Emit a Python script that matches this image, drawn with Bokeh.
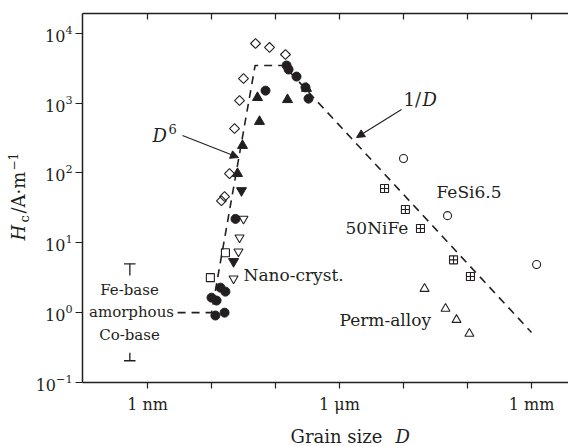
import numpy as np
from bokeh.plotting import figure
from bokeh.layouts import row, column
from bokeh.models import Range1d, LogAxis, FixedTicker, Label, Arrow, NormalHead
from bokeh.embed import file_html
from bokeh.resources import INLINE

# ---------------- data (grain size D in nm, coercivity Hc in A/m) ----------------
diam_x = [48.7, 80.6, 143, 31.6, 27.4, 22.9, 19.1, 14.3, 16.0]
diam_y = [7140, 6270, 4970, 2250, 1090, 433, 98, 40, 46]

circ_x = [149, 160, 213, 294, 328, 69.8, 23.7, 10.0, 12.0, 13.8, 16.5, 11.5, 16.0]
circ_y = [3460, 3030, 2400, 1680, 1160, 1510, 22, 1.64, 1.49, 2.28, 2.0, 0.91, 1.0]

tri_x = [52.3, 154, 56.2, 30.5, 25.5, 305]
tri_y = [1200, 1120, 545, 247, 98, 1620]

itri_x = [29.4, 22.1]
itri_y = [56, 5.4]

oitri_x = [31.6, 27.4, 26.4, 22.1]
oitri_y = [22, 11.9, 7.5, 3.07]

osq_x = [16.5, 9.6]
osq_y = [7.2, 3.17]

fesi_x = [1.0e4, 4.87e4, 1.2e6]
fesi_y = [161, 24.5, 4.9]

nife_x = [5050, 10700, 18400, 60400, 111000]
nife_y = [60, 30, 16, 5.7, 3.3]

perm_x = [21300, 45300, 67300, 107000]
perm_y = [2.2, 1.14, 0.79, 0.50]

fit_x = [2.95, 10, 48, 135, 1.0e6]
fit_y = [1.0, 1.0, 3460, 3460, 0.52]

amorph_x = 0.53          # position of the amorphous range bars
fe_top, fe_bar = 5.0, 3.4
co_bottom, co_bar = 0.205, 0.267
cap_lo, cap_hi = 0.43, 0.65

x_ticks = [1, 10, 100, 1e3, 1e4, 1e5, 1e6]
x_tick_labels = {1: "1 nm", 10: " ", 100: " ", 1000: "1 μm", 10000: " ", 100000: " ", 1000000: "1 mm"}
top_tick_labels = {1: " ", 10: " ", 100: " ", 1000: " ", 10000: " ", 100000: " ", 1000000: " "}
y_ticks = [0.1, 1, 10, 100, 1e3, 1e4]

INK = "#231f20"
FONT = "DejaVu Serif"

YLAB_W = 32
MAIN_W, MAIN_H = 536, 416
XLAB_H = 30
H_ALL = MAIN_H + XLAB_H

p = figure(width=MAIN_W, height=MAIN_H, x_axis_type="log", y_axis_type="log",
           x_range=Range1d(0.0965, 3.78e6), y_range=Range1d(0.1, 19200),
           output_backend="svg", toolbar_location=None,
           min_border_left=50, min_border_right=0, min_border_top=13, min_border_bottom=34)
p.outline_line_color = None
p.xgrid.visible = False
p.ygrid.visible = False

for ax in (p.xaxis[0], p.yaxis[0]):
    ax.axis_line_width = 1.5
    ax.axis_line_color = INK
    ax.major_tick_line_color = INK
    ax.major_tick_line_width = 1.2
    ax.major_tick_in = 0
    ax.minor_tick_line_color = None
    ax.major_label_text_font = FONT
    ax.major_label_text_font_size = "16px"
    ax.major_label_text_color = INK

p.xaxis[0].ticker = FixedTicker(ticks=x_ticks)
p.xaxis[0].major_label_overrides = x_tick_labels
p.xaxis[0].major_tick_out = 6
p.xaxis[0].major_label_standoff = 6

p.yaxis[0].ticker = FixedTicker(ticks=y_ticks)
p.yaxis[0].major_tick_out = 7
p.yaxis[0].major_label_standoff = 3

top = LogAxis(ticker=FixedTicker(ticks=x_ticks), major_tick_in=6, major_tick_out=0,
              major_label_overrides=top_tick_labels,
              major_label_text_font_size="2px", major_label_standoff=0,
              minor_tick_line_color=None, axis_line_width=1.5, axis_line_color=INK,
              major_tick_line_color=INK, major_tick_line_width=1.2)
p.add_layout(top, "above")

# fit line
p.line(fit_x, fit_y, line_color=INK, line_width=1.6, line_dash="8 6")

# markers
p.scatter(diam_x, diam_y, marker="square", angle=np.pi / 4, size=7,
          fill_color=None, line_color=INK, line_width=1.1)
p.scatter(tri_x, tri_y, marker="triangle", size=10, fill_color=INK, line_color=INK)
p.scatter(itri_x, itri_y, marker="inverted_triangle", size=10, fill_color=INK, line_color=INK)
p.scatter(circ_x, circ_y, marker="circle", size=9, fill_color=INK, line_color=INK)
p.scatter(oitri_x, oitri_y, marker="inverted_triangle", size=9,
          fill_color=None, line_color=INK, line_width=1.1)
p.scatter(osq_x, osq_y, marker="square", size=8, fill_color=None, line_color=INK, line_width=1.1)
p.scatter(fesi_x, fesi_y, marker="circle", size=8, fill_color=None, line_color=INK, line_width=1.1)
p.scatter(nife_x, nife_y, marker="square_cross", size=8, fill_color=None, line_color=INK, line_width=1.1)
p.scatter(perm_x, perm_y, marker="triangle", size=9, fill_color=None, line_color=INK, line_width=1.1)

# amorphous range bars
p.segment([amorph_x, amorph_x, cap_lo, cap_lo], [fe_bar, co_bar, fe_top, co_bottom],
          [amorph_x, amorph_x, cap_hi, cap_hi], [fe_top, co_bottom, fe_top, co_bottom],
          line_color=INK, line_width=1.3)


def lab(fig, ox, oy, text, px, py, size, italic=False, align="left", angle=0.0):
    """Label placed by its page baseline position; (ox, oy) = page position of the
    figure frame's bottom-left. A small shift compensates the renderer's baseline offset."""
    shift = 0.4 * size
    if angle:
        sx, sy = px - ox - shift, oy - py
    else:
        sx, sy = px - ox, oy - py + shift
    fig.add_layout(Label(x=sx, y=sy, x_units="screen", y_units="screen",
                         text=text, text_font=FONT, text_font_size=f"{size}px",
                         text_font_style="italic" if italic else "normal",
                         text_align=align, text_baseline="alphabetic",
                         text_color=INK, angle=angle))


FL, FB = 82, 382  # main frame left / bottom on the page

# annotations inside the main frame
lab(p, FL, FB, "D", 152, 142, 18, italic=True)
lab(p, FL, FB, "6", 168, 134, 13)
lab(p, FL, FB, "1/", 403, 106, 18)
lab(p, FL, FB, "D", 422, 106, 18, italic=True)
lab(p, FL, FB, "FeSi6.5", 436, 198, 17)
lab(p, FL, FB, "50NiFe", 345, 234, 17)
lab(p, FL, FB, "Nano-cryst.", 243, 281, 17)
lab(p, FL, FB, "Perm-alloy", 339, 326, 17)
lab(p, FL, FB, "Fe-base", 129, 295, 15, align="center")
lab(p, FL, FB, "amorphous", 131, 317, 15, align="center")
lab(p, FL, FB, "Co-base", 129, 340, 15, align="center")

for (sx, sy, ex, ey) in [(182, 135, 238, 157), (401, 109, 356, 137)]:
    p.add_layout(Arrow(x_start=sx - FL, y_start=FB - sy, x_end=ex - FL, y_end=FB - ey,
                       start_units="screen", end_units="screen",
                       line_color=INK, line_width=1.1,
                       end=NormalHead(size=8, fill_color=INK, line_color=INK)))


def blank(w, h):
    f = figure(width=w, height=h, x_range=Range1d(0, 1), y_range=Range1d(0, 1),
               x_axis_location=None, y_axis_location=None, toolbar_location=None,
               output_backend="svg", title=None,
               min_border_left=0, min_border_right=0, min_border_top=0, min_border_bottom=0)
    f.outline_line_color = None
    f.xgrid.visible = False
    f.ygrid.visible = False
    return f


# y-axis label panel (left strip, page x 0..32, full height)
yl = blank(YLAB_W, H_ALL)
a = np.pi / 2
lab(yl, 0, H_ALL, "H", 25, 240, 18, italic=True, angle=a)
lab(yl, 0, H_ALL, "c", 29, 222, 13, angle=a)
lab(yl, 0, H_ALL, "/A·m", 25, 213, 18, angle=a)
lab(yl, 0, H_ALL, "−1", 17, 170, 12, angle=a)

# x-axis label panel (below main); its frame is aligned with the main frame (left at page x 82)
xl = blank(MAIN_W, XLAB_H)
lab(xl, FL, H_ALL, "Grain size", 382, 443, 18, align="right")
lab(xl, FL, H_ALL, "D", 395, 443, 18, italic=True)

layout = row(yl, column(p, xl, spacing=0), spacing=0)

open("out.html", "w").write(file_html(layout, INLINE))
